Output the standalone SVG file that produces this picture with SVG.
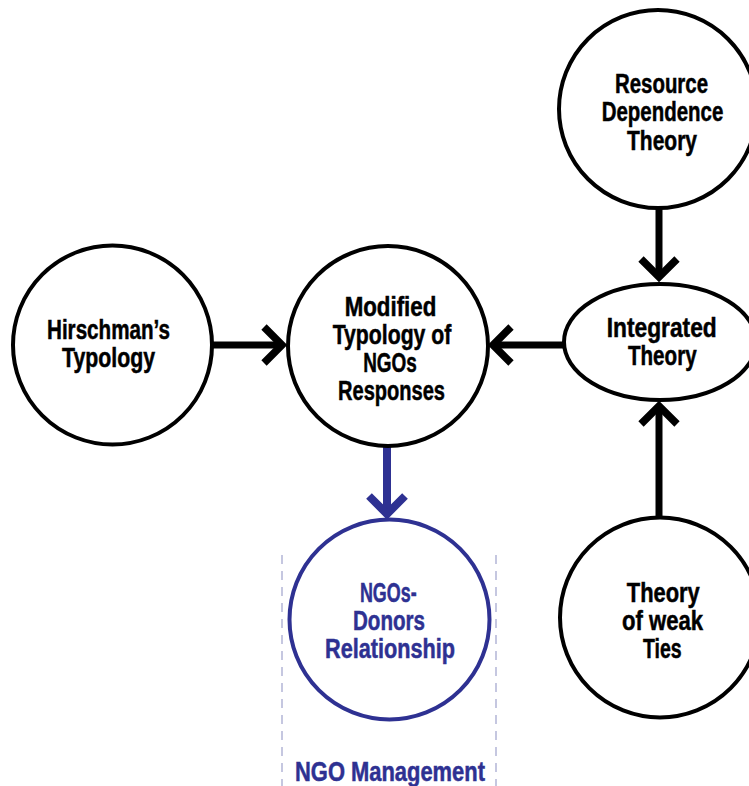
<svg xmlns="http://www.w3.org/2000/svg" width="749" height="786" viewBox="0 0 749 786">
  <style>
    .node { fill: #ffffff; stroke: #000000; stroke-width: 4; }
    .node.blue { stroke: #2e3192; }
    .label { font-family: "Liberation Sans Narrow", "Liberation Sans", Arial, sans-serif; font-weight: bold; font-size: 27px; fill: #000000; stroke: #000000; stroke-width: 0.5; text-anchor: middle; }
    .label.blue { fill: #2e3192; stroke: #2e3192; }
    .edge { fill: none; stroke: #000000; stroke-width: 7; }
    .edge.blue { stroke: #2e3192; stroke-width: 8; }
    .guide { fill: none; stroke: #b3b5d6; stroke-width: 1.5; stroke-dasharray: 9 7; }
  </style>
  <defs>
    <marker id="chevron" markerUnits="userSpaceOnUse" markerWidth="40" markerHeight="60" viewBox="-30 -30 40 60" refX="0" refY="0" orient="auto">
      <path d="M-18,-18 L0,0 L-18,18" fill="none" stroke="#000000" stroke-width="7.5" stroke-miterlimit="10"/>
    </marker>
    <marker id="chevron-blue" markerUnits="userSpaceOnUse" markerWidth="40" markerHeight="60" viewBox="-30 -30 40 60" refX="0" refY="0" orient="auto">
      <path d="M-18,-18 L0,0 L-18,18" fill="none" stroke="#2e3192" stroke-width="8" stroke-miterlimit="10"/>
    </marker>
  </defs>

  <!-- management band guides -->
  <g id="ngo-management">
    <line class="guide" x1="282" y1="555" x2="282" y2="786"/>
    <line class="guide" x1="496" y1="555" x2="496" y2="786"/>
    <text class="label blue" x="390" y="781" textLength="190" lengthAdjust="spacingAndGlyphs">NGO Management</text>
  </g>

  <!-- connectors -->
  <g id="connectors">
    <line class="edge" x1="212" y1="345" x2="282" y2="345" marker-end="url(#chevron)"/>
    <line class="edge" x1="564" y1="345" x2="493" y2="345" marker-end="url(#chevron)"/>
    <line class="edge" x1="659" y1="208" x2="659" y2="277" marker-end="url(#chevron)"/>
    <line class="edge" x1="659" y1="517" x2="659" y2="406" marker-end="url(#chevron)"/>
    <line class="edge blue" x1="387" y1="446" x2="387" y2="514" marker-end="url(#chevron-blue)"/>
  </g>

  <g id="hirschman">
    <circle class="node" cx="112.5" cy="345" r="99.5"/>
    <text class="label" x="108.5" y="338.5" textLength="123" lengthAdjust="spacingAndGlyphs">Hirschman’s</text>
    <text class="label" x="108.5" y="366.8" textLength="93" lengthAdjust="spacingAndGlyphs">Typology</text>
  </g>

  <g id="modified-typology">
    <circle class="node" cx="388" cy="346" r="100"/>
    <text class="label" x="390.5" y="315.5" textLength="91.7" lengthAdjust="spacingAndGlyphs">Modified</text>
    <text class="label" x="392" y="343.8" textLength="118.7" lengthAdjust="spacingAndGlyphs">Typology of</text>
    <text class="label" x="390" y="372.1" textLength="53.7" lengthAdjust="spacingAndGlyphs">NGOs</text>
    <text class="label" x="391.5" y="400.4" textLength="107" lengthAdjust="spacingAndGlyphs">Responses</text>
  </g>

  <g id="resource-dependence">
    <circle class="node" cx="658" cy="109" r="99"/>
    <text class="label" x="661.5" y="93" textLength="93" lengthAdjust="spacingAndGlyphs">Resource</text>
    <text class="label" x="662.5" y="121.3" textLength="121.6" lengthAdjust="spacingAndGlyphs">Dependence</text>
    <text class="label" x="662" y="149.6" textLength="70" lengthAdjust="spacingAndGlyphs">Theory</text>
  </g>

  <g id="integrated-theory">
    <ellipse class="node" cx="660" cy="342" rx="96" ry="58"/>
    <text class="label" x="661.7" y="336.7" textLength="110" lengthAdjust="spacingAndGlyphs">Integrated</text>
    <text class="label" x="662.3" y="365" textLength="68.7" lengthAdjust="spacingAndGlyphs">Theory</text>
  </g>

  <g id="weak-ties">
    <circle class="node" cx="660" cy="617.5" r="100"/>
    <text class="label" x="663.3" y="601.7" textLength="73" lengthAdjust="spacingAndGlyphs">Theory</text>
    <text class="label" x="662.5" y="630" textLength="81" lengthAdjust="spacingAndGlyphs">of weak</text>
    <text class="label" x="662.3" y="658.3" textLength="38.7" lengthAdjust="spacingAndGlyphs">Ties</text>
  </g>

  <g id="ngos-donors">
    <circle class="node blue" cx="389.5" cy="619.5" r="100"/>
    <text class="label blue" x="388.3" y="601.7" textLength="56.7" lengthAdjust="spacingAndGlyphs">NGOs-</text>
    <text class="label blue" x="389" y="630" textLength="72" lengthAdjust="spacingAndGlyphs">Donors</text>
    <text class="label blue" x="390" y="658.3" textLength="130" lengthAdjust="spacingAndGlyphs">Relationship</text>
  </g>
</svg>
